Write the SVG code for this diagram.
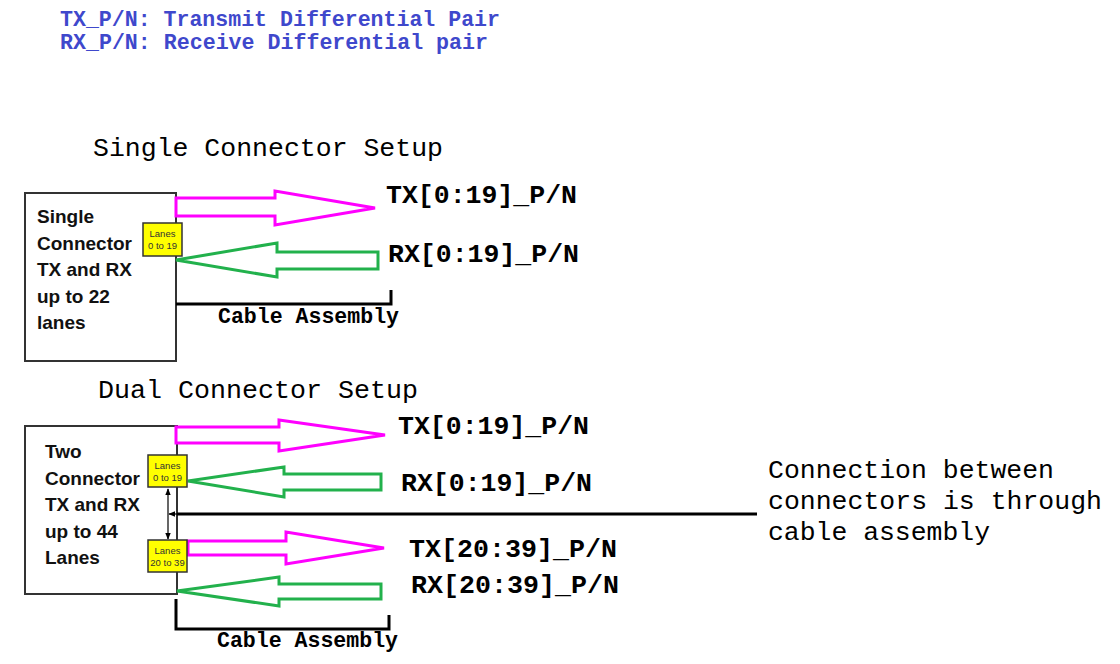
<svg xmlns="http://www.w3.org/2000/svg" width="1120" height="664" viewBox="0 0 1120 664">
<defs>
<style>
.mono{font-family:"Liberation Mono","Courier New",monospace}
.legend{font-size:21.5px;font-weight:bold;fill:#3F48CC}
.title{font-size:26.5px;fill:#000}
.lbl{font-size:26.5px;font-weight:bold;fill:#000}
.cab{font-size:21.5px;font-weight:bold;fill:#000}
.box{fill:#fff;stroke:#333;stroke-width:2}
.btxt{font-family:"Liberation Sans",Arial,sans-serif;font-weight:bold;font-size:19px;fill:#111}
.lane{fill:#FFFF00;stroke:#333;stroke-width:1.5}
.ltxt{font-family:"Liberation Sans",Arial,sans-serif;font-size:9.5px;fill:#333;text-anchor:middle}
.tx{fill:#fff;stroke:#FF00FF;stroke-width:3}
.rx{fill:#fff;stroke:#22B14C;stroke-width:3}
.bk{fill:none;stroke:#000;stroke-width:3}
.thin{fill:none;stroke:#000;stroke-width:1.2}
</style>
<marker id="ah" viewBox="0 0 10 10" refX="9" refY="5" markerWidth="7" markerHeight="7" orient="auto-start-reverse" markerUnits="userSpaceOnUse">
<path d="M0,1 L10,5 L0,9 Z" fill="#000"/>
</marker>
</defs>
<rect width="1120" height="664" fill="#fff"/>

<g id="legend" class="mono legend">
<text x="60" y="26" textLength="440" lengthAdjust="spacingAndGlyphs">TX_P/N: Transmit Differential Pair</text>
<text x="60" y="49" textLength="428" lengthAdjust="spacingAndGlyphs">RX_P/N: Receive Differential pair</text>
</g>

<g id="titles" class="mono title">
<text x="93" y="156" textLength="350" lengthAdjust="spacingAndGlyphs">Single Connector Setup</text>
<text x="98" y="398" textLength="320" lengthAdjust="spacingAndGlyphs">Dual Connector Setup</text>
</g>

<g id="single-box">
<rect class="box" x="25" y="193" width="151" height="168"/>
<text class="btxt" x="37" y="223">Single</text>
<text class="btxt" x="37" y="250">Connector</text>
<text class="btxt" x="37" y="276">TX and RX</text>
<text class="btxt" x="37" y="303">up to 22</text>
<text class="btxt" x="37" y="329">lanes</text>
</g>

<g id="dual-box">
<rect class="box" x="25" y="426" width="152" height="168"/>
<text class="btxt" x="45" y="458">Two</text>
<text class="btxt" x="45" y="485">Connector</text>
<text class="btxt" x="45" y="511">TX and RX</text>
<text class="btxt" x="45" y="538">up to 44</text>
<text class="btxt" x="45" y="564">Lanes</text>
</g>

<g id="connectors">
<polygon class="tx" points="176,198 275,198 275,191 375,208 275,225 275,216 176,216"/>
<polygon class="rx" points="176,260 277,243 277,252 378,252 378,269 277,269 277,277"/>
<polyline class="bk" points="176,304 391,304 391,290"/>
<polygon class="tx" points="176,427 279,427 279,420 385,435 279,451 279,443 176,443"/>
<polygon class="rx" points="188,481 284,467 284,474 381,474 381,490 284,490 284,497"/>
<polygon class="tx" points="188,541 286,541 286,532 384,548 286,564 286,555 188,555"/>
<polygon class="rx" points="177,591 279,577 279,584 381,584 381,599 279,599 279,606"/>
<polyline class="bk" points="176,599 176,629 389,629 389,615"/>
<line class="thin" x1="168" y1="489" x2="168" y2="539" marker-start="url(#ah)" marker-end="url(#ah)"/>
<line x1="757" y1="514" x2="177" y2="514" stroke="#000" stroke-width="3"/>
<line class="thin" x1="178" y1="514" x2="169" y2="514" marker-end="url(#ah)"/>
</g>

<g id="single-lanes">
<rect class="lane" x="143" y="223" width="39" height="33"/>
<text class="ltxt" x="162.5" y="237">Lanes</text>
<text class="ltxt" x="162.5" y="249">0 to 19</text>
</g>
<g id="dual-lanes-1">
<rect class="lane" x="148" y="455" width="39" height="32"/>
<text class="ltxt" x="167.5" y="469">Lanes</text>
<text class="ltxt" x="167.5" y="481">0 to 19</text>
</g>
<g id="dual-lanes-2">
<rect class="lane" x="148" y="540" width="39" height="32"/>
<text class="ltxt" x="167.5" y="554">Lanes</text>
<text class="ltxt" x="167.5" y="566">20 to 39</text>
</g>

<g id="labels" class="mono lbl">
<text x="386" y="203" textLength="191" lengthAdjust="spacingAndGlyphs">TX[0:19]_P/N</text>
<text x="388" y="262" textLength="191" lengthAdjust="spacingAndGlyphs">RX[0:19]_P/N</text>
<text x="398" y="434" textLength="191" lengthAdjust="spacingAndGlyphs">TX[0:19]_P/N</text>
<text x="401" y="491" textLength="191" lengthAdjust="spacingAndGlyphs">RX[0:19]_P/N</text>
<text x="409" y="557" textLength="208" lengthAdjust="spacingAndGlyphs">TX[20:39]_P/N</text>
<text x="411" y="593" textLength="208" lengthAdjust="spacingAndGlyphs">RX[20:39]_P/N</text>
</g>

<g id="cable-labels" class="mono cab">
<text x="218" y="323" textLength="181" lengthAdjust="spacingAndGlyphs">Cable Assembly</text>
<text x="217" y="647" textLength="181" lengthAdjust="spacingAndGlyphs">Cable Assembly</text>
</g>

<g id="note" class="mono title">
<text x="768" y="478" textLength="286" lengthAdjust="spacingAndGlyphs">Connection between</text>
<text x="768" y="509" textLength="334" lengthAdjust="spacingAndGlyphs">connectors is through</text>
<text x="768" y="540" textLength="222" lengthAdjust="spacingAndGlyphs">cable assembly</text>
</g>
</svg>
